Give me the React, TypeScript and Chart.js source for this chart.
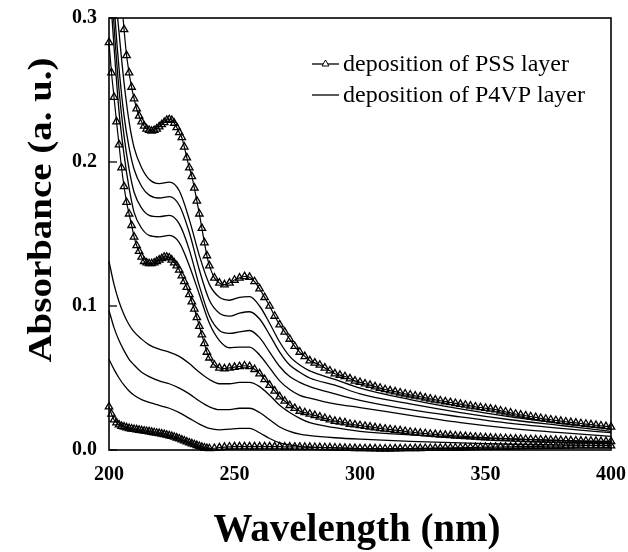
import React, { useEffect, useRef } from "react";
import { Chart, registerables } from "chart.js";

Chart.register(...registerables);

// ---------- data ----------
const X_TICKS = [200, 250, 300, 350, 400];
const Y_TICKS = [0.0, 0.1, 0.2, 0.3];

// wavelength grid of the PSS (triangle) spectra
const PSS_WL = [
  200, 201, 202, 203, 204, 205, 206, 207, 208, 209,
  210, 211, 212, 213, 214, 215, 216, 217, 218, 219,
  220, 221, 222, 223, 224, 225, 226, 227, 228, 229,
  230, 231, 232, 233, 234, 235, 236, 237, 238, 239,
  240,
  242, 244, 246, 248, 250, 252, 254, 256, 258, 260,
  262, 264, 266, 268, 270, 272, 274, 276, 278, 280,
  282, 284, 286, 288, 290, 292, 294, 296, 298, 300,
  302, 304, 306, 308, 310, 312, 314, 316, 318, 320,
  322, 324, 326, 328, 330, 332, 334, 336, 338, 340,
  342, 344, 346, 348, 350, 352, 354, 356, 358, 360,
  362, 364, 366, 368, 370, 372, 374, 376, 378, 380,
  382, 384, 386, 388, 390, 392, 394, 396, 398, 400,
];

const PSS_TOP = [
  0.40, 0.38, 0.36, 0.345, 0.33, 0.312, 0.292, 0.274, 0.262, 0.252,
  0.244, 0.237, 0.232, 0.228, 0.225, 0.223, 0.222, 0.2215, 0.222, 0.223,
  0.2245, 0.226, 0.2275, 0.229, 0.2295, 0.229, 0.227, 0.224, 0.2205, 0.217,
  0.2105, 0.203, 0.196, 0.19, 0.182, 0.173, 0.164, 0.154, 0.144, 0.135,
  0.128,
  0.1195, 0.116, 0.1148, 0.116, 0.118, 0.1195, 0.1205, 0.12, 0.117, 0.112,
  0.106, 0.1, 0.093, 0.087, 0.082, 0.077, 0.072, 0.068, 0.065, 0.062,
  0.0605, 0.059, 0.057, 0.055, 0.053, 0.052, 0.051, 0.0495, 0.048, 0.047,
  0.046, 0.045, 0.044, 0.043, 0.042, 0.0412, 0.0405, 0.0397, 0.039, 0.0383,
  0.0376, 0.037, 0.0362, 0.0355, 0.0348, 0.0342, 0.0336, 0.033, 0.0324, 0.0318,
  0.0312, 0.0306, 0.03, 0.0295, 0.029, 0.0285, 0.028, 0.0272, 0.0265, 0.0258,
  0.025, 0.0244, 0.0238, 0.0232, 0.0226, 0.022, 0.0215, 0.021, 0.0205, 0.02,
  0.0196, 0.0192, 0.0188, 0.0184, 0.018, 0.0176, 0.0172, 0.0168, 0.0164, 0.016,
];

const PSS_MID = [
  0.283, 0.262, 0.245, 0.228, 0.212, 0.196, 0.183, 0.172, 0.164, 0.156,
  0.148, 0.142, 0.138, 0.134, 0.131, 0.13, 0.1295, 0.1295, 0.13, 0.131,
  0.132, 0.133, 0.134, 0.134, 0.1335, 0.132, 0.13, 0.128, 0.125, 0.121,
  0.117, 0.113, 0.108, 0.103, 0.098, 0.092, 0.086, 0.08, 0.074, 0.068,
  0.064,
  0.059, 0.057, 0.0565, 0.057, 0.0575, 0.058, 0.0585, 0.058, 0.056, 0.053,
  0.049, 0.045, 0.041, 0.037, 0.034, 0.031, 0.029, 0.027, 0.026, 0.025,
  0.024, 0.023, 0.022, 0.021, 0.02, 0.0195, 0.019, 0.018, 0.0175, 0.017,
  0.0165, 0.016, 0.0155, 0.015, 0.0146, 0.0142, 0.0138, 0.0134, 0.013, 0.0125,
  0.012, 0.0117, 0.0114, 0.0111, 0.0108, 0.0105, 0.0103, 0.0101, 0.0098, 0.0096,
  0.0094, 0.0092, 0.009, 0.0088, 0.0086, 0.0084, 0.0082, 0.0081, 0.008, 0.0078,
  0.0077, 0.0076, 0.0074, 0.0073, 0.0072, 0.0071, 0.007, 0.0069, 0.0068, 0.0067,
  0.0066, 0.0065, 0.0064, 0.0063, 0.0062, 0.0062, 0.0061, 0.006, 0.006, 0.006,
];

const PSS_BOTTOM = [
  0.03, 0.025, 0.021, 0.019, 0.0175, 0.0165, 0.016, 0.0155, 0.015, 0.0147,
  0.0144, 0.0141, 0.0138, 0.0135, 0.0132, 0.013, 0.0127, 0.0124, 0.0121, 0.0118,
  0.0115, 0.0112, 0.0108, 0.0104, 0.01, 0.0095, 0.009, 0.0084, 0.0078, 0.0071,
  0.0064, 0.0057, 0.005, 0.0044, 0.0038, 0.0032, 0.0026, 0.002, 0.0015, 0.0012,
  0.001,
  0.0012, 0.0016, 0.002, 0.0022, 0.0023, 0.0023, 0.0023, 0.0023, 0.0023, 0.0023,
  0.0023, 0.0023, 0.0023, 0.0023, 0.0022, 0.0022, 0.0021, 0.0021, 0.002, 0.002,
  0.0019, 0.0018, 0.0017, 0.0016, 0.0015, 0.0014, 0.0013, 0.0012, 0.0011, 0.001,
  0.001, 0.0009, 0.0009, 0.0008, 0.0008, 0.0008, 0.0009, 0.0009, 0.001, 0.001,
  0.0011, 0.0011, 0.0012, 0.0012, 0.0013, 0.0013, 0.0014, 0.0014, 0.0015, 0.0015,
  0.0016, 0.0017, 0.0018, 0.0019, 0.002, 0.002, 0.0021, 0.0021, 0.0022, 0.0022,
  0.0023, 0.0023, 0.0024, 0.0024, 0.0025, 0.0025, 0.0026, 0.0026, 0.0027, 0.0027,
  0.0028, 0.0028, 0.0029, 0.0029, 0.003, 0.003, 0.003, 0.003, 0.003, 0.003,
];

// wavelength grid of the P4VP (plain line) spectra
const P4VP_WL = [
  200, 202, 204, 206, 208, 210, 213, 216, 220, 224,
  228, 232, 236, 240, 244, 248, 252, 256, 260, 264,
  268, 272, 276, 280, 290, 300, 320, 340, 360, 380,
  400,
];

const P4VP_U1 = [
  0.4, 0.33, 0.29, 0.255, 0.228, 0.21, 0.196, 0.188, 0.185, 0.186,
  0.18, 0.16, 0.135, 0.115, 0.106, 0.104, 0.106, 0.1065, 0.1, 0.088,
  0.075, 0.065, 0.059, 0.055, 0.049, 0.043, 0.035, 0.0285, 0.023, 0.0185,
  0.0145,
];
const P4VP_U2 = [
  0.37, 0.31, 0.265, 0.232, 0.21, 0.195, 0.183, 0.177, 0.175, 0.176,
  0.17, 0.151, 0.125, 0.104, 0.095, 0.093, 0.095, 0.096, 0.091, 0.08,
  0.068, 0.059, 0.054, 0.05, 0.045, 0.039, 0.032, 0.026, 0.021, 0.017,
  0.013,
];
const P4VP_U3 = [
  0.35, 0.295, 0.25, 0.218, 0.195, 0.179, 0.168, 0.163, 0.162, 0.163,
  0.157, 0.139, 0.114, 0.093, 0.083, 0.081, 0.082, 0.083, 0.078, 0.068,
  0.058, 0.051, 0.047, 0.044, 0.039, 0.0345, 0.028, 0.023, 0.0185, 0.015,
  0.012,
];
const P4VP_U4 = [
  0.33, 0.28, 0.235, 0.205, 0.182, 0.165, 0.154, 0.149, 0.148, 0.149,
  0.144, 0.128, 0.108, 0.088, 0.076, 0.071, 0.0715, 0.0715, 0.066, 0.057,
  0.048, 0.042, 0.038, 0.036, 0.032, 0.0295, 0.024, 0.019, 0.015, 0.012,
  0.0095,
];
const P4VP_L1 = [
  0.131, 0.115, 0.103, 0.094, 0.087, 0.082, 0.077, 0.073, 0.07, 0.068,
  0.065, 0.06, 0.054, 0.049, 0.046, 0.046, 0.047, 0.047, 0.044, 0.038,
  0.031, 0.026, 0.022, 0.019, 0.0155, 0.013, 0.0105, 0.0088, 0.0075, 0.0065,
  0.0055,
];
const P4VP_L2 = [
  0.097, 0.085, 0.076, 0.069, 0.063, 0.059, 0.054, 0.051, 0.048, 0.046,
  0.043, 0.039, 0.034, 0.03, 0.028, 0.028, 0.029, 0.029, 0.026, 0.021,
  0.016, 0.013, 0.011, 0.01, 0.0085, 0.0075, 0.006, 0.005, 0.004, 0.0035,
  0.003,
];
const P4VP_L3 = [
  0.063, 0.056, 0.05, 0.045, 0.041, 0.038, 0.035, 0.033, 0.031, 0.029,
  0.026, 0.022, 0.018, 0.015, 0.014, 0.0145, 0.015, 0.015, 0.012, 0.008,
  0.005, 0.0035, 0.0025, 0.002, 0.0015, 0.001, 0.001, 0.0012, 0.0013, 0.0015,
  0.0015,
];

const PSS_SERIES = [PSS_BOTTOM, PSS_MID, PSS_TOP];
const P4VP_SERIES = [P4VP_L3, P4VP_L2, P4VP_L1, P4VP_U4, P4VP_U3, P4VP_U2, P4VP_U1];

const LEGEND_LABELS = ["deposition of PSS layer", "deposition of P4VP layer"];
const X_TITLE = "Wavelength (nm)";
const Y_TITLE = "Absorbance (a. u.)";

// ---------- styling ----------
const SERIF = "'Liberation Serif', 'Times New Roman', serif";
const W = 628;
const H = 552;

function drawTriangle(ctx: CanvasRenderingContext2D, x: number, y: number, r: number) {
  ctx.beginPath();
  ctx.moveTo(x, y - r);
  ctx.lineTo(x + r * 0.866, y + r * 0.5);
  ctx.lineTo(x - r * 0.866, y + r * 0.5);
  ctx.closePath();
  ctx.fillStyle = "#fff";
  ctx.fill();
  ctx.stroke();
}

const decorPlugin = {
  id: "decor",
  afterDatasetsDraw(chart: any) {
    const { ctx, chartArea: a, scales } = chart;
    ctx.save();
    ctx.strokeStyle = "#000";
    ctx.lineWidth = 1.6;
    ctx.strokeRect(a.left, a.top, a.right - a.left, a.bottom - a.top);
    // inward y ticks
    ctx.lineWidth = 1.3;
    for (const v of Y_TICKS) {
      const y = scales.y.getPixelForValue(v);
      ctx.beginPath();
      ctx.moveTo(a.left, y);
      ctx.lineTo(a.left + 8, y);
      ctx.stroke();
    }
    // legend
    const lx0 = 312, lx1 = 339;
    const rows = [64, 95];
    ctx.lineWidth = 1.3;
    rows.forEach((ry, i) => {
      ctx.beginPath();
      ctx.moveTo(lx0, ry);
      ctx.lineTo(lx1, ry);
      ctx.stroke();
      if (i === 0) {
        ctx.lineWidth = 1;
        drawTriangle(ctx, (lx0 + lx1) / 2, ry, 4);
        ctx.lineWidth = 1.3;
      }
      ctx.fillStyle = "#000";
      ctx.font = `24px ${SERIF}`;
      ctx.textAlign = "left";
      ctx.textBaseline = "middle";
      ctx.fillText(LEGEND_LABELS[i], 343, ry + 1);
    });
    // axis titles
    ctx.fillStyle = "#000";
    ctx.font = `bold 39px ${SERIF}`;
    ctx.textAlign = "center";
    ctx.textBaseline = "alphabetic";
    ctx.fillText(X_TITLE, 357, 541);
    ctx.save();
    ctx.translate(51, 210);
    ctx.rotate(-Math.PI / 2);
    ctx.scale(1.18, 1);
    ctx.font = `bold 33px ${SERIF}`;
    ctx.fillText(Y_TITLE, 0, 0);
    ctx.restore();
    ctx.restore();
  },
};

export default function App() {
  const ref = useRef<HTMLCanvasElement | null>(null);

  useEffect(() => {
    if (!ref.current) return;
    const datasets: any[] = [];
    P4VP_SERIES.forEach((vals) => {
      datasets.push({
        data: P4VP_WL.map((x, i) => ({ x, y: vals[i] })),
        borderColor: "#000",
        borderWidth: 1.3,
        pointRadius: 0,
        cubicInterpolationMode: "monotone",
        clip: { left: 6, right: 6, top: 0, bottom: 6 },
      });
    });
    PSS_SERIES.forEach((vals) => {
      datasets.push({
        data: PSS_WL.map((x, i) => ({ x, y: vals[i] })),
        borderColor: "#000",
        borderWidth: 1.2,
        pointStyle: "triangle",
        pointRadius: 4.3,
        pointBorderWidth: 1.3,
        pointBorderColor: "#000",
        pointBackgroundColor: "rgba(255,255,255,0)",
        tension: 0.3,
        clip: { left: 6, right: 6, top: 0, bottom: 6 },
      });
    });

    const chart = new Chart(ref.current, {
      type: "line",
      data: { datasets },
      options: {
        animation: false,
        responsive: false,
        maintainAspectRatio: false,
        layout: { padding: { left: 0, right: W - 611, top: 18, bottom: 0 } },
        plugins: { legend: { display: false }, tooltip: { enabled: false } },
        scales: {
          x: {
            type: "linear",
            min: 200,
            max: 400,
            afterBuildTicks: (s: any) => {
              s.ticks = X_TICKS.map((v) => ({ value: v }));
            },
            afterFit: (s: any) => {
              s.height = H - 450;
              s.paddingLeft = 0;
              s.paddingRight = 0;
            },
            grid: { display: false, drawTicks: false },
            border: { display: false },
            ticks: {
              color: "#000",
              padding: 13,
              maxRotation: 0,
              font: { family: SERIF, size: 20, weight: "bold" },
              callback: (v: any) => String(v),
            },
          },
          y: {
            type: "linear",
            min: 0,
            max: 0.3,
            afterBuildTicks: (s: any) => {
              s.ticks = Y_TICKS.map((v) => ({ value: v }));
            },
            afterFit: (s: any) => {
              s.width = 109;
              s.paddingTop = 0;
              s.paddingBottom = 0;
            },
            grid: { display: false, drawTicks: false },
            border: { display: false },
            ticks: {
              color: "#000",
              padding: 12,
              font: { family: SERIF, size: 20, weight: "bold" },
              callback: (v: any) => Number(v).toFixed(1),
            },
          },
        },
      },
      plugins: [decorPlugin],
    });
    return () => chart.destroy();
  }, []);

  return (
    <div style={{ position: "absolute", left: 0, top: 0, width: W, height: H, background: "#fff" }}>
      <canvas ref={ref} width={W} height={H} style={{ display: "block" }} />
    </div>
  );
}
